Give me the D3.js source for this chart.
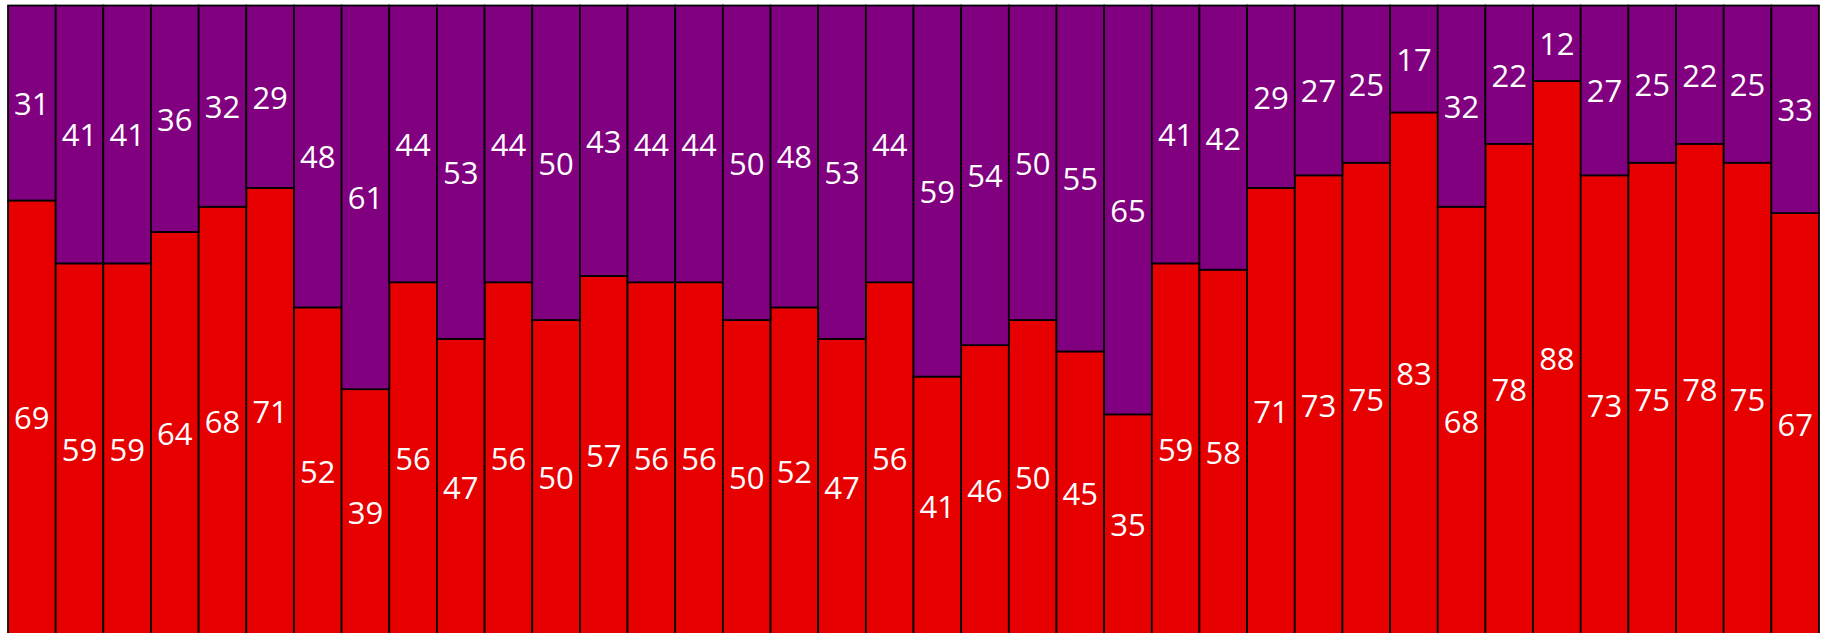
<!DOCTYPE html>
<html>
<head>
<meta charset="utf-8">
<script src="https://cdn.jsdelivr.net/npm/d3@7"></script>
<style>
html,body{margin:0;padding:0;background:#fff;overflow:hidden;}
svg{display:block;}
</style>
</head>
<body>
<svg id="chart" width="1825" height="633"></svg>
<script>
const categories = d3.range(1, 39).map(String);
const redValues = [69,59,59,64,68,71,52,39,56,47,56,50,57,56,56,50,52,47,56,41,46,50,45,35,59,58,71,73,75,83,68,78,88,73,75,78,75,67];
const purpleValues = [31,41,41,36,32,29,48,61,44,53,44,50,43,44,44,50,48,53,44,59,54,50,55,65,41,42,29,27,25,17,32,22,12,27,25,22,25,33];
const seriesNames = ["red", "purple"];
const seriesColors = ["#E60000", "#800080"];

const data = categories.map((c, i) => ({cat: c, red: redValues[i], purple: purpleValues[i]}));
const stack = d3.stack().keys(seriesNames);
const layers = stack(data);

const svg = d3.select("#chart");
const x = d3.scaleBand().domain(categories).range([8, 1819]).padding(0);
const y = d3.scaleLinear().domain([0, 100]).range([634.5, 5.5]);
const color = d3.scaleOrdinal().domain(seriesNames).range(seriesColors);

const g = svg.append("g");
layers.forEach(layer => {
  const lg = g.append("g").attr("fill", color(layer.key));
  lg.selectAll("rect").data(layer).join("rect")
    .attr("x", d => x(d.data.cat))
    .attr("width", x.bandwidth())
    .attr("y", d => y(d[1]))
    .attr("height", d => y(d[0]) - y(d[1]))
    .attr("stroke", "#000")
    .attr("stroke-width", 1.75);
});
layers.forEach(layer => {
  g.append("g").selectAll("text").data(layer).join("text")
    .attr("x", d => x(d.data.cat) + x.bandwidth() / 2)
    .attr("y", d => (y(d[0]) + y(d[1])) / 2)
    .attr("text-anchor", "middle")
    .attr("dominant-baseline", "central")
    .attr("fill", "#fff")
    .attr("font-family", "'Open Sans', 'Noto Sans', sans-serif")
    .attr("font-size", 31)
    .text(d => d[1] - d[0]);
});
</script>
</body>
</html>
